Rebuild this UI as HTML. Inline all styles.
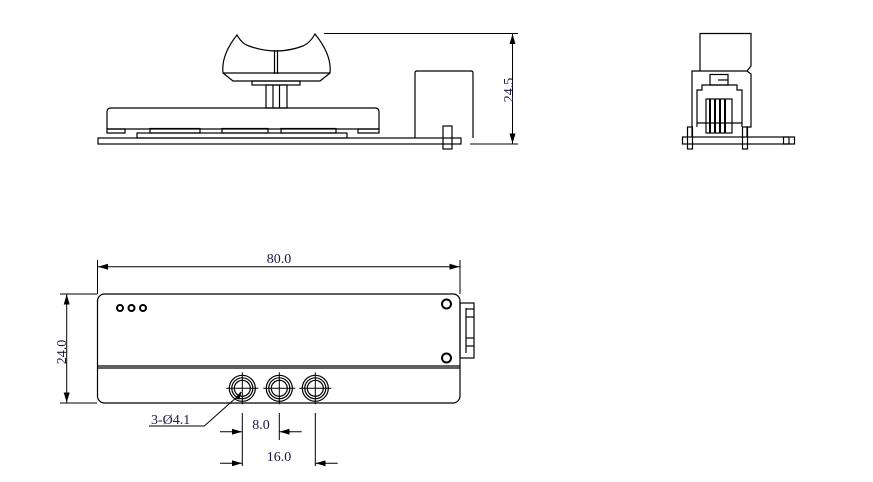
<!DOCTYPE html>
<html><head><meta charset="utf-8"><style>
html,body{margin:0;padding:0;background:#fff;width:873px;height:482px;overflow:hidden}
svg{display:block}
text{font-family:"Liberation Serif",serif;fill:#1a1a40}
</style></head><body>
<svg width="873" height="482" viewBox="0 0 873 482" xmlns="http://www.w3.org/2000/svg">
<defs>
<marker id="a" viewBox="0 0 10 6" refX="10" refY="3" markerWidth="10" markerHeight="6" orient="auto-start-reverse" markerUnits="userSpaceOnUse"><path d="M0,0 L10,3 L0,6 z" fill="#000"/></marker>
</defs>
<g fill="none" stroke="#000" stroke-width="1.2">
<rect x="98" y="138" width="363" height="6"/>
<path d="M107,129 V112 Q107,108 111,108 H375 Q379,108 379,112 V129 Z"/>
<path d="M107,129 H125 V133 H107 Z"/>
<path d="M358,129 H379 V133 H358 Z"/>
<rect x="137" y="133" width="210" height="5"/>
<rect x="150" y="128.5" width="50" height="4.5"/>
<rect x="222" y="128.5" width="46" height="4.5"/>
<rect x="281" y="128.5" width="55" height="4.5"/>
<rect x="266" y="85" width="21" height="23"/>
<line x1="273" y1="85" x2="273" y2="108"/><line x1="279.5" y1="85" x2="279.5" y2="108"/>
<rect x="252" y="81" width="48" height="4"/>
<path d="M233,81 L223,73 Q221,55 237,35 Q242,44 249,46 Q276,56 303,46 Q310,43 315,34 Q332,55 330,73 L320,81 Z"/>
<line x1="223" y1="73" x2="330" y2="73"/>
<line x1="274.5" y1="50" x2="274.5" y2="74"/><line x1="277.5" y1="50" x2="277.5" y2="74"/>
<path d="M415,138 V73 Q415,71 417,71 H471 Q473,71 473,73 V138"/>
<rect x="443" y="126" width="9" height="23"/>
<line x1="324" y1="33.5" x2="518" y2="33.5" stroke-width="1"/>
<line x1="470" y1="144" x2="518" y2="144" stroke-width="1"/>
<line x1="512.5" y1="34" x2="512.5" y2="143.5" stroke-width="1" marker-start="url(#a)" marker-end="url(#a)"/>

<path d="M700,71 V33.5 H751 V66 L747,71"/>
<path d="M692,137 V71 H747 L751,74 V127 H747 V137"/>
<rect x="682.5" y="137" width="112" height="7"/>
<rect x="687.5" y="127" width="5" height="22"/>
<rect x="742.5" y="127" width="5" height="22"/>
<rect x="783.5" y="137" width="5.5" height="7"/>
<path d="M697,127 V90 H702 V85 H737 V90 H742 V127"/>
<rect x="710" y="74.5" width="18" height="10.5"/>
<line x1="718" y1="80" x2="728" y2="80"/>
<rect x="706" y="99" width="26" height="34"/>
<g stroke-width="2"><line x1="710" y1="99" x2="710" y2="133"/><line x1="715" y1="99" x2="715" y2="133"/><line x1="720" y1="99" x2="720" y2="133"/><line x1="725" y1="99" x2="725" y2="133"/></g>
<line x1="697" y1="123" x2="742" y2="123"/>

<rect x="97.5" y="294" width="362.5" height="109" rx="7"/>
<line x1="97.5" y1="366" x2="460" y2="366"/><line x1="97.5" y1="368" x2="460" y2="368"/>
<g stroke-width="2"><circle cx="120" cy="308" r="3"/><circle cx="131.5" cy="308" r="3"/><circle cx="143" cy="308" r="3"/>
<circle cx="446.5" cy="304" r="4.5"/><circle cx="446.5" cy="358" r="4.5"/></g>
<rect x="460" y="303" width="14" height="55"/>
<line x1="466" y1="308" x2="466" y2="353"/>
<line x1="466" y1="309" x2="474" y2="309"/><line x1="466" y1="317" x2="474" y2="317"/><line x1="466" y1="338" x2="474" y2="338"/><line x1="466" y1="346" x2="474" y2="346"/>
<g transform="translate(242.3,388.3)"><circle r="13"/><circle r="10.5"/><circle r="8"/><line x1="-16" x2="16" stroke-width="1"/><line y1="-16" y2="16" stroke-width="1"/></g>
<g transform="translate(279.3,388.3)"><circle r="13"/><circle r="10.5"/><circle r="8"/><line x1="-16" x2="16" stroke-width="1"/><line y1="-16" y2="16" stroke-width="1"/></g>
<g transform="translate(315.3,388.3)"><circle r="13"/><circle r="10.5"/><circle r="8"/><line x1="-16" x2="16" stroke-width="1"/><line y1="-16" y2="16" stroke-width="1"/></g>
</g>
<g fill="none" stroke="#000" stroke-width="1">
<line x1="97.5" y1="260" x2="97.5" y2="294"/><line x1="460" y1="260" x2="460" y2="294"/>
<line x1="98" y1="266.7" x2="459.5" y2="266.7" marker-start="url(#a)" marker-end="url(#a)"/>
<line x1="60" y1="294" x2="97" y2="294"/><line x1="60" y1="403" x2="97" y2="403"/>
<line x1="66.7" y1="294.5" x2="66.7" y2="402.5" marker-start="url(#a)" marker-end="url(#a)"/>
<polyline points="238,396 204.3,426 149,426"/>
<path d="M236,398 L241,392 L239,399 z" fill="#000"/>
<line x1="242.3" y1="413" x2="242.3" y2="466"/><line x1="279.3" y1="413" x2="279.3" y2="440"/><line x1="315.3" y1="413" x2="315.3" y2="466"/>
<line x1="220" y1="431.7" x2="242" y2="431.7" marker-end="url(#a)"/>
<line x1="301.7" y1="431.7" x2="279.6" y2="431.7" marker-end="url(#a)"/>
<line x1="220" y1="463.3" x2="242" y2="463.3" marker-end="url(#a)"/>
<line x1="337.7" y1="463.3" x2="315.6" y2="463.3" marker-end="url(#a)"/>
</g>
<text x="279" y="263" font-size="14" text-anchor="middle">80.0</text>
<text x="0" y="0" font-size="14" text-anchor="middle" transform="translate(66,352) rotate(-90)">24.0</text>
<text x="0" y="0" font-size="14" text-anchor="middle" transform="translate(513,90) rotate(-90)">24.5</text>
<text x="151" y="424" font-size="14">3-Ø4.1</text>
<text x="261" y="429" font-size="14" text-anchor="middle">8.0</text>
<text x="279" y="461" font-size="14" text-anchor="middle">16.0</text>
</svg>
</body></html>
